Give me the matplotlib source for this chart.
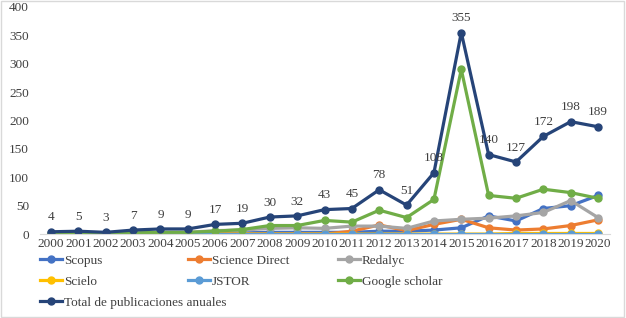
import numpy as np
import matplotlib.pyplot as plt

plt.rcParams['font.family'] = ['Liberation Serif', 'DejaVu Serif']

years = [str(y) for y in range(2000, 2021)]
scopus = [1, 1, 1, 1, 2, 2, 2, 2, 3, 3, 3, 3, 5, 5, 7, 11, 32, 23, 45, 50, 68]
science_direct = [0, 0, 0, 0, 0, 0, 0, 0, 0, 0, 0, 5, 16, 6, 17, 26, 11, 7, 9, 15, 25]
redalyc = [1, 1, 1, 2, 3, 3, 6, 7, 10, 11, 10, 14, 14, 10, 23, 26, 28, 32, 38, 59, 29]
scielo = [0, 0, 0, 0, 0, 0, 0, 0, 0, 0, 0, 0, 0, 0, 0, 0, 0, 1, 1, 1, 1]
jstor = [0] * 21
google = [0, 0, 0, 2, 3, 3, 5, 8, 15, 15, 24, 21, 42, 29, 61, 290, 68, 63, 79, 73, 63]
total = [4, 5, 3, 7, 9, 9, 17, 19, 30, 32, 43, 45, 78, 51, 108, 355, 140, 127, 172, 198, 189]

series = [
    ("Scopus", scopus, "#4472C4"),
    ("Science Direct", science_direct, "#ED7D31"),
    ("Redalyc", redalyc, "#A5A5A5"),
    ("Scielo", scielo, "#FFC000"),
    ("JSTOR", jstor, "#5B9BD5"),
    ("Google scholar", google, "#70AD47"),
    ("Total de publicaciones anuales", total, "#264478"),
]

fig = plt.figure(figsize=(6.26, 3.18), dpi=100)
ax = fig.add_axes([0.064, 0.264, 0.911, 0.714])
x = np.arange(len(years))
lines = []
for name, vals, col in series:
    ln, = ax.plot(x, vals, color=col, lw=2.3, marker='o', ms=5, label=name)
    lines.append(ln)

for i, v in enumerate(total):
    ax.annotate(str(v), (x[i], v), xytext=(0, 6), textcoords='offset points',
                ha='center', va='bottom', fontsize=9.5, color='#404040')

ax.set_xlim(-0.4, 20.45)
ax.set_ylim(0, 400)
ax.set_yticks(range(0, 401, 50))
ax.set_xticks(x)
ax.set_xticklabels(years)
ax.tick_params(axis='both', length=0, labelsize=9.5, colors='#404040', pad=3)
ax.tick_params(axis='y', pad=8)
for s in ['top', 'right', 'left']:
    ax.spines[s].set_visible(False)
ax.spines['bottom'].set_color('#D9D9D9')

# legend laid out in three columns, row by row
cols = [[0, 3, 6], [1, 4], [2, 5]]
xpos = [40, 188, 338]
for c, xp in zip(cols, xpos):
    leg = fig.legend([lines[k] for k in c], [series[k][0] for k in c],
                     loc='upper left', bbox_to_anchor=(xp / 626, 0.2),
                     frameon=False, fontsize=9.5, handlelength=1.7,
                     handletextpad=0.1, labelspacing=0.68,
                     borderpad=0, borderaxespad=0)
    for t in leg.get_texts():
        t.set_color('#404040')

fig.patches.append(plt.Rectangle((0.002, 0.003), 0.995, 0.993, transform=fig.transFigure,
                                 fill=False, edgecolor='#D9D9D9', lw=1))
fig.savefig('out.png', dpi=100)
